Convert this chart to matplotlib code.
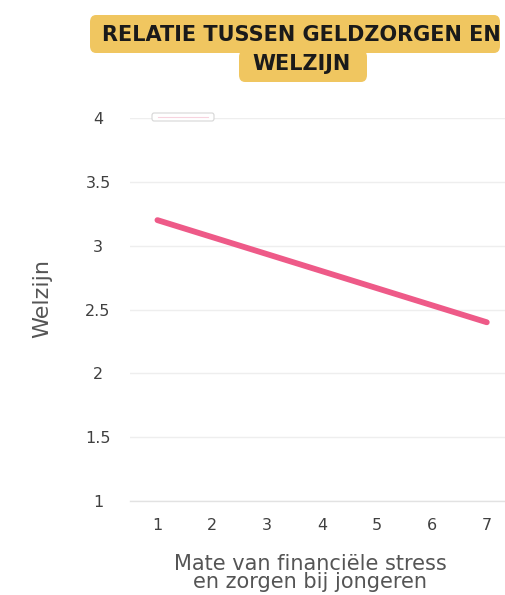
import matplotlib
matplotlib.use("Agg")
import matplotlib.pyplot as plt
from matplotlib.patches import FancyBboxPatch

# Data
x_values = [1, 7]
welzijn = [3.2, 2.4]
x_ticks = [1, 2, 3, 4, 5, 6, 7]
y_ticks = [1, 1.5, 2, 2.5, 3, 3.5, 4]
y_tick_labels = ["1", "1.5", "2", "2.5", "3", "3.5", "4"]
title_lines = ["RELATIE TUSSEN GELDZORGEN EN", "WELZIJN"]
y_label = "Welzijn"
x_label = "Mate van financiële stress\nen zorgen bij jongeren"

W, H = 506, 595
fig = plt.figure(figsize=(W / 100, H / 100), dpi=100)
fig.patch.set_facecolor("white")

ax = fig.add_axes([130 / W, 1 - 501 / H, 376 / W, 383 / H])
ax.plot(x_values, welzijn, color="#EE5A88", lw=4.2, solid_capstyle="round", zorder=3)

ax.set_xlim(0.5, 7.35)
ax.set_ylim(1, 4)
ax.set_xticks(x_ticks)
ax.set_yticks(y_ticks)
ax.set_yticklabels(y_tick_labels)
ax.grid(axis="y", color="#eeeeee", lw=1.0)
ax.set_axisbelow(True)
for s in ["top", "right", "left"]:
    ax.spines[s].set_visible(False)
ax.spines["bottom"].set_color("#e2e2e2")
ax.spines["bottom"].set_linewidth(1.0)

ax.tick_params(axis="both", length=0)
ax.tick_params(axis="x", pad=12)
ax.tick_params(axis="y", pad=23)
for lab in ax.get_yticklabels() + ax.get_xticklabels():
    lab.set_fontfamily("DejaVu Sans")
    lab.set_fontsize(11.5)
    lab.set_color("#404040")
for lab in ax.get_yticklabels():
    lab.set_horizontalalignment("center")

# Small empty legend box near the top
leg = FancyBboxPatch((152 / W, 1 - 121 / H), 62 / W, 8 / H,
                     boxstyle="round,pad=0,rounding_size=0.004",
                     transform=fig.transFigure, facecolor="white",
                     edgecolor="#d6d6d6", lw=0.8, zorder=5)
fig.patches.append(leg)
fig.add_artist(plt.Line2D([158 / W, 208 / W], [1 - 117 / H, 1 - 117 / H],
                          color="#f7d3de", lw=0.8, zorder=6))

fig.text(42 / W, 1 - 298 / H, y_label, rotation=90, ha="center", va="center",
         family="DejaVu Sans", size=16, color="#555555")
fig.text(310 / W, 1 - 573 / H, x_label, ha="center", va="center",
         family="DejaVu Sans", size=15, color="#555555", linespacing=0.85)

# Title badges
badge_color = "#F0C660"
b1 = FancyBboxPatch((90 / W, 1 - 53 / H), 410 / W, 38 / H,
                    boxstyle="round,pad=0,rounding_size=0.012",
                    transform=fig.transFigure, facecolor=badge_color,
                    edgecolor="none", zorder=1)
b2 = FancyBboxPatch((239 / W, 1 - 82 / H), 128 / W, 32 / H,
                    boxstyle="round,pad=0,rounding_size=0.012",
                    transform=fig.transFigure, facecolor=badge_color,
                    edgecolor="none", zorder=1)
fig.patches.extend([b1, b2])
fig.text(301 / W, 1 - 35 / H, title_lines[0], ha="center", va="center",
         family="DejaVu Sans", weight="bold", size=15, color="#1a1a1a", zorder=2)
fig.text(302 / W, 1 - 64 / H, title_lines[1], ha="center", va="center",
         family="DejaVu Sans", weight="bold", size=15, color="#1a1a1a", zorder=2)

fig.savefig("out.png", dpi=100)
